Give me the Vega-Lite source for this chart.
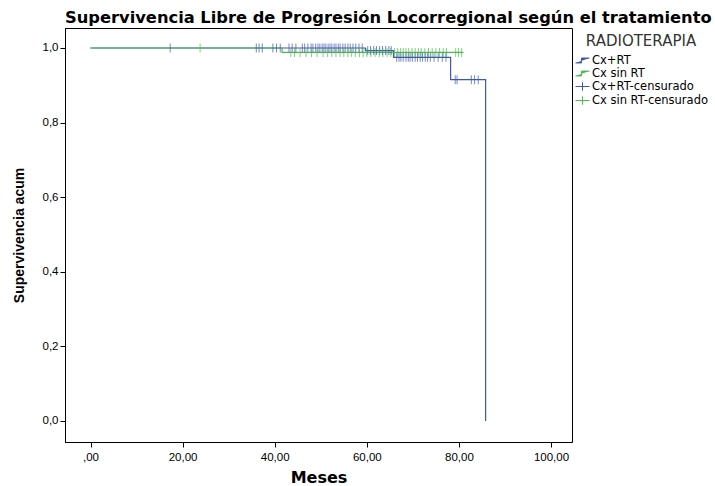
{
  "$schema": "https://vega.github.io/schema/vega-lite/v6.json",
  "autosize": "none",
  "width": 507,
  "height": 414,
  "padding": {"left": 65, "top": 28, "right": 143, "bottom": 44},
  "background": "white",
  "title": {
    "text": "Supervivencia Libre de Progresión Locorregional según el tratamiento",
    "anchor": "start",
    "frame": "group",
    "font": "DejaVu Sans",
    "fontSize": 16.3,
    "fontWeight": "bold",
    "color": "black",
    "offset": 2
  },
  "config": {
    "view": {"stroke": "black", "strokeWidth": 1},
    "axis": {
      "labelFont": "Liberation Sans",
      "labelFontSize": 11.5,
      "labelColor": "black",
      "titleFont": "Liberation Sans",
      "titleColor": "black",
      "titleFontWeight": "bold",
      "domainColor": "black",
      "tickColor": "black",
      "tickSize": 5,
      "grid": false
    },
    "legend": {
      "labelFont": "DejaVu Sans",
      "titleFont": "DejaVu Sans"
    }
  },
  "datasets": {
    "curvas": [
      {"t": 0, "s": 1.0, "serie": "Cx+RT"},
      {"t": 59.7, "s": 0.993, "serie": "Cx+RT"},
      {"t": 65.8, "s": 0.975, "serie": "Cx+RT"},
      {"t": 78.2, "s": 0.915, "serie": "Cx+RT"},
      {"t": 85.8, "s": 0.0, "serie": "Cx+RT"},
      {"t": 0, "s": 1.0, "serie": "Cx sin RT"},
      {"t": 41.6, "s": 0.988, "serie": "Cx sin RT"},
      {"t": 81.0, "s": 0.988, "serie": "Cx sin RT"}
    ],
    "censuras": [
      {"t": 17.3, "s": 1.0, "serie": "Cx+RT-censurado"},
      {"t": 36.0, "s": 1.0, "serie": "Cx+RT-censurado"},
      {"t": 36.6, "s": 1.0, "serie": "Cx+RT-censurado"},
      {"t": 37.3, "s": 1.0, "serie": "Cx+RT-censurado"},
      {"t": 39.6, "s": 1.0, "serie": "Cx+RT-censurado"},
      {"t": 40.4, "s": 1.0, "serie": "Cx+RT-censurado"},
      {"t": 41.2, "s": 1.0, "serie": "Cx+RT-censurado"},
      {"t": 43.1, "s": 1.0, "serie": "Cx+RT-censurado"},
      {"t": 43.8, "s": 1.0, "serie": "Cx+RT-censurado"},
      {"t": 44.6, "s": 1.0, "serie": "Cx+RT-censurado"},
      {"t": 46.0, "s": 1.0, "serie": "Cx+RT-censurado"},
      {"t": 46.5, "s": 1.0, "serie": "Cx+RT-censurado"},
      {"t": 47.2, "s": 1.0, "serie": "Cx+RT-censurado"},
      {"t": 47.9, "s": 1.0, "serie": "Cx+RT-censurado"},
      {"t": 48.3, "s": 1.0, "serie": "Cx+RT-censurado"},
      {"t": 48.9, "s": 1.0, "serie": "Cx+RT-censurado"},
      {"t": 49.4, "s": 1.0, "serie": "Cx+RT-censurado"},
      {"t": 49.8, "s": 1.0, "serie": "Cx+RT-censurado"},
      {"t": 50.3, "s": 1.0, "serie": "Cx+RT-censurado"},
      {"t": 50.7, "s": 1.0, "serie": "Cx+RT-censurado"},
      {"t": 51.1, "s": 1.0, "serie": "Cx+RT-censurado"},
      {"t": 51.6, "s": 1.0, "serie": "Cx+RT-censurado"},
      {"t": 52.0, "s": 1.0, "serie": "Cx+RT-censurado"},
      {"t": 52.4, "s": 1.0, "serie": "Cx+RT-censurado"},
      {"t": 52.9, "s": 1.0, "serie": "Cx+RT-censurado"},
      {"t": 53.3, "s": 1.0, "serie": "Cx+RT-censurado"},
      {"t": 53.8, "s": 1.0, "serie": "Cx+RT-censurado"},
      {"t": 54.2, "s": 1.0, "serie": "Cx+RT-censurado"},
      {"t": 54.8, "s": 1.0, "serie": "Cx+RT-censurado"},
      {"t": 55.3, "s": 1.0, "serie": "Cx+RT-censurado"},
      {"t": 55.9, "s": 1.0, "serie": "Cx+RT-censurado"},
      {"t": 56.4, "s": 1.0, "serie": "Cx+RT-censurado"},
      {"t": 57.0, "s": 1.0, "serie": "Cx+RT-censurado"},
      {"t": 57.6, "s": 1.0, "serie": "Cx+RT-censurado"},
      {"t": 58.3, "s": 1.0, "serie": "Cx+RT-censurado"},
      {"t": 59.0, "s": 1.0, "serie": "Cx+RT-censurado"},
      {"t": 60.2, "s": 0.993, "serie": "Cx+RT-censurado"},
      {"t": 60.8, "s": 0.993, "serie": "Cx+RT-censurado"},
      {"t": 61.5, "s": 0.993, "serie": "Cx+RT-censurado"},
      {"t": 62.1, "s": 0.993, "serie": "Cx+RT-censurado"},
      {"t": 62.8, "s": 0.993, "serie": "Cx+RT-censurado"},
      {"t": 63.4, "s": 0.993, "serie": "Cx+RT-censurado"},
      {"t": 64.1, "s": 0.993, "serie": "Cx+RT-censurado"},
      {"t": 64.8, "s": 0.993, "serie": "Cx+RT-censurado"},
      {"t": 65.3, "s": 0.993, "serie": "Cx+RT-censurado"},
      {"t": 66.5, "s": 0.975, "serie": "Cx+RT-censurado"},
      {"t": 67.0, "s": 0.975, "serie": "Cx+RT-censurado"},
      {"t": 67.4, "s": 0.975, "serie": "Cx+RT-censurado"},
      {"t": 67.9, "s": 0.975, "serie": "Cx+RT-censurado"},
      {"t": 68.5, "s": 0.975, "serie": "Cx+RT-censurado"},
      {"t": 69.0, "s": 0.975, "serie": "Cx+RT-censurado"},
      {"t": 69.4, "s": 0.975, "serie": "Cx+RT-censurado"},
      {"t": 69.9, "s": 0.975, "serie": "Cx+RT-censurado"},
      {"t": 70.5, "s": 0.975, "serie": "Cx+RT-censurado"},
      {"t": 71.0, "s": 0.975, "serie": "Cx+RT-censurado"},
      {"t": 71.6, "s": 0.975, "serie": "Cx+RT-censurado"},
      {"t": 72.1, "s": 0.975, "serie": "Cx+RT-censurado"},
      {"t": 72.7, "s": 0.975, "serie": "Cx+RT-censurado"},
      {"t": 73.2, "s": 0.975, "serie": "Cx+RT-censurado"},
      {"t": 73.8, "s": 0.975, "serie": "Cx+RT-censurado"},
      {"t": 74.6, "s": 0.975, "serie": "Cx+RT-censurado"},
      {"t": 75.5, "s": 0.975, "serie": "Cx+RT-censurado"},
      {"t": 76.4, "s": 0.975, "serie": "Cx+RT-censurado"},
      {"t": 77.2, "s": 0.975, "serie": "Cx+RT-censurado"},
      {"t": 79.2, "s": 0.915, "serie": "Cx+RT-censurado"},
      {"t": 79.6, "s": 0.915, "serie": "Cx+RT-censurado"},
      {"t": 82.7, "s": 0.915, "serie": "Cx+RT-censurado"},
      {"t": 83.4, "s": 0.915, "serie": "Cx+RT-censurado"},
      {"t": 84.2, "s": 0.915, "serie": "Cx+RT-censurado"},
      {"t": 23.8, "s": 1.0, "serie": "Cx sin RT-censurado"},
      {"t": 43.5, "s": 0.988, "serie": "Cx sin RT-censurado"},
      {"t": 44.3, "s": 0.988, "serie": "Cx sin RT-censurado"},
      {"t": 45.5, "s": 0.988, "serie": "Cx sin RT-censurado"},
      {"t": 46.8, "s": 0.988, "serie": "Cx sin RT-censurado"},
      {"t": 48.0, "s": 0.988, "serie": "Cx sin RT-censurado"},
      {"t": 49.2, "s": 0.988, "serie": "Cx sin RT-censurado"},
      {"t": 50.5, "s": 0.988, "serie": "Cx sin RT-censurado"},
      {"t": 51.5, "s": 0.988, "serie": "Cx sin RT-censurado"},
      {"t": 52.4, "s": 0.988, "serie": "Cx sin RT-censurado"},
      {"t": 53.3, "s": 0.988, "serie": "Cx sin RT-censurado"},
      {"t": 54.2, "s": 0.988, "serie": "Cx sin RT-censurado"},
      {"t": 55.0, "s": 0.988, "serie": "Cx sin RT-censurado"},
      {"t": 55.9, "s": 0.988, "serie": "Cx sin RT-censurado"},
      {"t": 56.7, "s": 0.988, "serie": "Cx sin RT-censurado"},
      {"t": 57.5, "s": 0.988, "serie": "Cx sin RT-censurado"},
      {"t": 58.4, "s": 0.988, "serie": "Cx sin RT-censurado"},
      {"t": 59.2, "s": 0.988, "serie": "Cx sin RT-censurado"},
      {"t": 60.0, "s": 0.988, "serie": "Cx sin RT-censurado"},
      {"t": 60.9, "s": 0.988, "serie": "Cx sin RT-censurado"},
      {"t": 61.8, "s": 0.988, "serie": "Cx sin RT-censurado"},
      {"t": 62.7, "s": 0.988, "serie": "Cx sin RT-censurado"},
      {"t": 63.5, "s": 0.988, "serie": "Cx sin RT-censurado"},
      {"t": 64.4, "s": 0.988, "serie": "Cx sin RT-censurado"},
      {"t": 65.2, "s": 0.988, "serie": "Cx sin RT-censurado"},
      {"t": 66.0, "s": 0.988, "serie": "Cx sin RT-censurado"},
      {"t": 66.7, "s": 0.988, "serie": "Cx sin RT-censurado"},
      {"t": 67.3, "s": 0.988, "serie": "Cx sin RT-censurado"},
      {"t": 67.9, "s": 0.988, "serie": "Cx sin RT-censurado"},
      {"t": 68.5, "s": 0.988, "serie": "Cx sin RT-censurado"},
      {"t": 69.1, "s": 0.988, "serie": "Cx sin RT-censurado"},
      {"t": 69.8, "s": 0.988, "serie": "Cx sin RT-censurado"},
      {"t": 70.5, "s": 0.988, "serie": "Cx sin RT-censurado"},
      {"t": 71.2, "s": 0.988, "serie": "Cx sin RT-censurado"},
      {"t": 71.8, "s": 0.988, "serie": "Cx sin RT-censurado"},
      {"t": 72.6, "s": 0.988, "serie": "Cx sin RT-censurado"},
      {"t": 73.4, "s": 0.988, "serie": "Cx sin RT-censurado"},
      {"t": 74.2, "s": 0.988, "serie": "Cx sin RT-censurado"},
      {"t": 75.0, "s": 0.988, "serie": "Cx sin RT-censurado"},
      {"t": 75.8, "s": 0.988, "serie": "Cx sin RT-censurado"},
      {"t": 76.6, "s": 0.988, "serie": "Cx sin RT-censurado"},
      {"t": 77.3, "s": 0.988, "serie": "Cx sin RT-censurado"},
      {"t": 79.3, "s": 0.988, "serie": "Cx sin RT-censurado"},
      {"t": 79.9, "s": 0.988, "serie": "Cx sin RT-censurado"},
      {"t": 80.6, "s": 0.988, "serie": "Cx sin RT-censurado"}
    ]
  },
  "encoding": {
    "x": {
      "field": "t",
      "type": "quantitative",
      "scale": {"domain": [-5.54, 104.56], "nice": false, "zero": false},
      "axis": {
        "title": "Meses",
        "titleFont": "DejaVu Sans",
        "titleFontSize": 16,
        "titlePadding": 7,
        "values": [0, 20, 40, 60, 80, 100],
        "labelExpr": "datum.value == 0 ? ',00' : replace(format(datum.value, '.2f'), '.', ',')",
        "labelPadding": 4
      }
    },
    "y": {
      "field": "s",
      "type": "quantitative",
      "scale": {"domain": [-0.0563, 1.0536], "nice": false, "zero": false},
      "axis": {
        "title": "Supervivencia acum",
        "titleFontSize": 14,
        "titlePadding": 16,
        "values": [0, 0.2, 0.4, 0.6, 0.8, 1.0],
        "labelExpr": "replace(format(datum.value, '.1f'), '.', ',')",
        "labelPadding": 2
      }
    },
    "color": {
      "field": "serie",
      "type": "nominal",
      "scale": {
        "domain": ["Cx+RT", "Cx sin RT", "Cx+RT-censurado", "Cx sin RT-censurado"],
        "range": ["#3e58ac", "#4cbb4f", "#3e58ac", "#4cbb4f"]
      },
      "legend": {
        "title": "RADIOTERAPIA",
        "orient": "right",
        "offset": -3,
        "padding": 6,
        "titleFontSize": 15,
        "titleFontWeight": "normal",
        "titleColor": "#333333",
        "titleAnchor": "middle",
        "titlePadding": 4,
        "labelFontSize": 11.5,
        "labelColor": "black",
        "labelOffset": 2,
        "symbolSize": 196,
        "symbolStrokeWidth": 1,
        "symbolFillColor": "transparent",
        "rowPadding": -2,
        "encode": {
          "symbols": {
            "update": {
              "shape": {"signal": "indexof(datum.value, 'censurado') > 0 ? 'M-1,0H1M0,-0.6V0.6' : 'M-1,0.35H-0.15V-0.35H1'"},
              "fill": {"value": "transparent"}
            }
          }
        }
      }
    }
  },
  "layer": [
    {
      "data": {"name": "curvas"},
      "mark": {"type": "line", "interpolate": "step-after", "strokeWidth": 1.2},
      "encoding": {"detail": {"field": "serie"}}
    },
    {
      "data": {"name": "censuras"},
      "mark": {"type": "tick", "orient": "vertical", "size": 9, "thickness": 1}
    }
  ]
}
